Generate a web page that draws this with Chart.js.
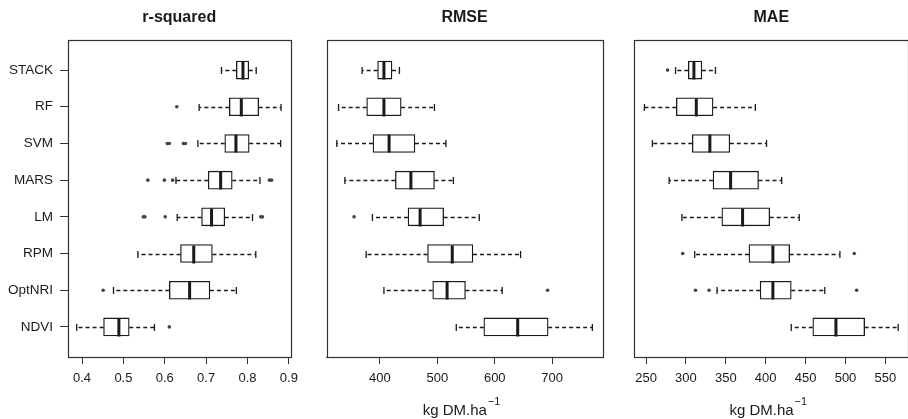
<!DOCTYPE html>
<html lang="en">
<head>
<meta charset="UTF-8">
<title>Model comparison</title>
<script src="https://cdn.jsdelivr.net/npm/chart.js"></script>
<style>
  html, body { margin: 0; padding: 0; background: #fff; overflow: hidden; }
  .wrap { position: relative; width: 908px; height: 419px; overflow: hidden; }
  canvas { position: absolute; top: 0; }
</style>
</head>
<body>
<div class="wrap">
  <canvas id="c1" width="305" height="419" style="left:0px"></canvas>
  <canvas id="c2" width="305" height="419" style="left:310px"></canvas>
  <canvas id="c3" width="300" height="419" style="left:620px"></canvas>
</div>
<script>
const models = ['STACK', 'RF', 'SVM', 'MARS', 'LM', 'RPM', 'OptNRI', 'NDVI'];

// each row: [lower whisker, Q1, median, Q3, upper whisker]
const r2Stats = [
  [0.737, 0.773, 0.789, 0.803, 0.821],
  [0.683, 0.756, 0.785, 0.827, 0.881],
  [0.680, 0.745, 0.772, 0.804, 0.880],
  [0.627, 0.705, 0.735, 0.763, 0.830],
  [0.630, 0.689, 0.713, 0.745, 0.812],
  [0.535, 0.638, 0.670, 0.715, 0.820],
  [0.476, 0.611, 0.660, 0.709, 0.773],
  [0.387, 0.452, 0.489, 0.514, 0.575]
];
const r2Outliers = [
  [], [0.629], [0.606, 0.611, 0.645, 0.650], [0.559, 0.599, 0.619, 0.853, 0.858],
  [0.548, 0.552, 0.601, 0.832, 0.836], [], [0.451], [0.611]
];

const rmseStats = [
  [369, 396, 407, 421, 434],
  [328, 377, 407, 437, 495],
  [325, 388, 416, 461, 515],
  [339, 427, 454, 495, 528],
  [387, 449, 470, 511, 573],
  [376, 483, 526, 562, 645],
  [407, 492, 517, 549, 613],
  [533, 581, 640, 693, 770]
];
const rmseOutliers = [[], [], [], [], [355], [], [692], []];

const maeStats = [
  [287, 303, 310, 320, 337],
  [248, 288, 313, 334, 387],
  [258, 308, 330, 355, 401],
  [279, 334, 356, 391, 420],
  [295, 345, 371, 405, 442],
  [311, 379, 409, 430, 493],
  [339, 393, 409, 432, 474],
  [432, 459, 488, 524, 566]
];
const maeOutliers = [[277], [], [], [], [], [296, 511], [312, 329, 514], []];

const r2Ticks = [0.4, 0.5, 0.6, 0.7, 0.8, 0.9];
const rmseTicks = [400, 500, 600, 700];
const maeTicks = [250, 300, 350, 400, 450, 500, 550];

const unitText = 'kg DM.ha';
const unitPower = '\u22121';

const FONT = "'Liberation Sans', Arial, sans-serif";
Chart.defaults.font.family = FONT;
Chart.defaults.font.size = 13;
Chart.defaults.color = '#1a1a1a';

// whiskers, caps, medians, frame and titles
const boxExtras = {
  id: 'boxExtras',
  afterDatasetsDraw(chart, args, opts) {
    const {ctx, chartArea: a, scales: {x, y}} = chart;
    ctx.save();
    ctx.strokeStyle = '#1a1a1a';
    opts.stats.forEach((s, i) => {
      const py = Math.round(y.getPixelForValue(i + 1)) + 0.5;
      const [lo, q1, med, q3, hi] = s.map(v => x.getPixelForValue(v));
      ctx.lineWidth = 1.3;
      ctx.setLineDash([4, 3]);
      ctx.beginPath();
      ctx.moveTo(q1, py); ctx.lineTo(lo, py);
      ctx.moveTo(q3, py); ctx.lineTo(hi, py);
      ctx.stroke();
      ctx.setLineDash([]);
      ctx.beginPath();
      ctx.moveTo(lo, py - 3.5); ctx.lineTo(lo, py + 3.5);
      ctx.moveTo(hi, py - 3.5); ctx.lineTo(hi, py + 3.5);
      ctx.stroke();
      ctx.lineWidth = 3;
      ctx.beginPath();
      ctx.moveTo(med, py - 9); ctx.lineTo(med, py + 9);
      ctx.stroke();
    });
    ctx.lineWidth = 1.2;
    ctx.strokeStyle = '#333';
    ctx.strokeRect(Math.round(a.left) + 0.5, Math.round(a.top) + 0.5,
      Math.round(a.width), Math.round(a.height));
    ctx.restore();
  },
  afterDraw(chart, args, opts) {
    const {ctx, chartArea: a} = chart;
    const cx = (a.left + a.right) / 2;
    ctx.save();
    ctx.fillStyle = '#1a1a1a';
    ctx.textAlign = 'center';
    ctx.textBaseline = 'alphabetic';
    ctx.font = 'bold 16px ' + FONT;
    ctx.fillText(opts.title, cx, 22);
    if (opts.unit) {
      ctx.font = '15px ' + FONT;
      const w1 = ctx.measureText(unitText).width;
      ctx.font = '11px ' + FONT;
      const w2 = ctx.measureText(unitPower).width;
      const start = cx - (w1 + w2 + 1) / 2 - 3;
      ctx.textAlign = 'left';
      ctx.font = '15px ' + FONT;
      ctx.fillText(unitText, start, 415);
      ctx.font = '11px ' + FONT;
      ctx.fillText(unitPower, start + w1 + 1, 405);
    }
    ctx.restore();
  }
};

function drawPanel(id, cfg) {
  const boxes = cfg.stats.map((s, i) => ({x: [s[1], s[3]], y: i + 1}));
  const points = cfg.outliers.flatMap((arr, i) => arr.map(v => ({x: v, y: i + 1})));
  new Chart(document.getElementById(id), {
    type: 'bar',
    data: {
      datasets: [{
        data: boxes,
        backgroundColor: '#fff',
        borderColor: '#1a1a1a',
        borderWidth: 1.3,
        borderSkipped: false,
        barThickness: 18
      }, {
        type: 'scatter',
        data: points,
        pointRadius: 1.8,
        pointBackgroundColor: '#444',
        pointBorderWidth: 0
      }]
    },
    options: {
      indexAxis: 'y',
      responsive: false,
      animation: false,
      events: [],
      layout: {padding: {top: 40, bottom: 0, left: cfg.padLeft, right: cfg.padRight}},
      plugins: {
        legend: {display: false},
        tooltip: {enabled: false},
        boxExtras: {stats: cfg.stats, title: cfg.title, unit: cfg.unit}
      },
      scales: {
        x: {
          type: 'linear',
          min: cfg.min,
          max: cfg.max,
          afterBuildTicks: s => { s.ticks = cfg.ticks.map(v => ({value: v})); },
          afterFit: s => { s.height = 62; },
          grid: {drawOnChartArea: false, tickLength: 7, color: '#333'},
          border: {color: '#333'},
          ticks: {autoSkip: false, maxRotation: 0, padding: 7, callback: v => String(v)}
        },
        y: {
          type: 'linear',
          display: cfg.showY,
          reverse: true,
          offset: false,
          min: 0.18,
          max: 8.82,
          afterBuildTicks: s => { s.ticks = models.map((m, i) => ({value: i + 1})); },
          afterFit: s => { s.width = cfg.showY ? 68 : 0; },
          grid: {offset: false, drawOnChartArea: false, tickLength: 8, color: '#333'},
          border: {color: '#333'},
          ticks: {autoSkip: false, padding: 7, font: {size: 13.5}, callback: v => models[v - 1]}
        }
      }
    },
    plugins: [boxExtras]
  });
}

drawPanel('c1', {title: 'r-squared', stats: r2Stats, outliers: r2Outliers, ticks: r2Ticks,
  min: 0.366, max: 0.904, padLeft: 0, padRight: 10, showY: true, unit: false});
drawPanel('c2', {title: 'RMSE', stats: rmseStats, outliers: rmseOutliers, ticks: rmseTicks,
  min: 307, max: 788, padLeft: 16.5, padRight: 12.3, showY: false, unit: true});
drawPanel('c3', {title: 'MAE', stats: maeStats, outliers: maeOutliers, ticks: maeTicks,
  min: 235.3, max: 578.7, padLeft: 14.3, padRight: 11.7, showY: false, unit: true});
</script>
</body>
</html>
